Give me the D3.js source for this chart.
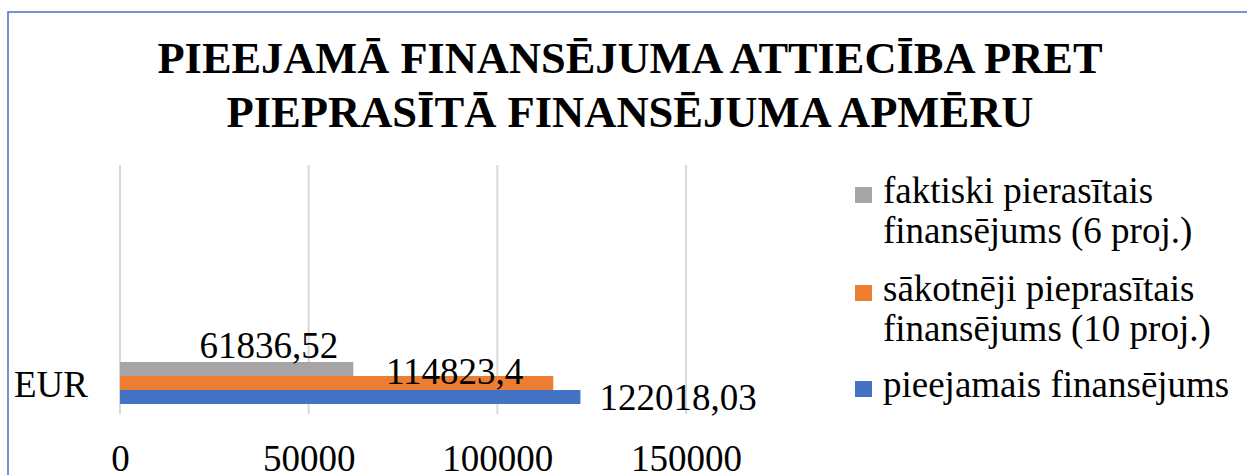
<!DOCTYPE html>
<html>
<head>
<meta charset="utf-8">
<script src="https://cdn.jsdelivr.net/npm/d3@7"></script>
<style>
  body { margin: 0; background: #fff; }
  svg text { font-family: "Liberation Serif", "Times New Roman", serif; fill: #000; }
</style>
</head>
<body>
<div class="chart"></div>
<script>
var w = 1247;
var h = 475;

// data
var category = "EUR";
var seriesNames = [
  ["faktiski pierasītais", "finansējums (6 proj.)"],
  ["sākotnēji pieprasītais", "finansējums (10 proj.)"],
  ["pieejamais finansējums"]
];
var seriesValues = [61836.52, 114823.4, 122018.03];
var valueLabels = ["61836,52", "114823,4", "122018,03"];
var seriesColors = ["#A5A5A5", "#ED7D31", "#4472C4"];
var tickValues = [0, 50000, 100000, 150000];
var titleLines = ["PIEEJAMĀ FINANSĒJUMA ATTIECĪBA PRET", "PIEPRASĪTĀ FINANSĒJUMA APMĒRU"];

var svg = d3.select(".chart").append("svg")
  .attr("width", w)
  .attr("height", h);

// outer frame (only top and left visible)
svg.append("rect")
  .attr("x", 8).attr("y", 12)
  .attr("width", w + 20).attr("height", h + 20)
  .attr("fill", "none")
  .attr("stroke", "#4472C4")
  .attr("stroke-width", 1.5);

// title
var titleWidths = [945, 807];
svg.selectAll(".title")
  .data(titleLines)
  .enter()
  .append("text")
  .attr("class", "title")
  .attr("x", 630)
  .attr("y", function(d, i) { return 73 + i * 54; })
  .attr("text-anchor", "middle")
  .attr("font-size", 45)
  .attr("font-weight", "bold")
  .attr("textLength", function(d, i) { return titleWidths[i]; })
  .attr("lengthAdjust", "spacingAndGlyphs")
  .text(function(d) { return d; });

var xScale = d3.scaleLinear()
  .domain([0, 150000])
  .range([120, 686]);

var yScale = d3.scaleBand()
  .domain(d3.range(seriesValues.length))
  .range([362, 404])
  .padding(0);

// gridlines
svg.append("g")
  .selectAll("line")
  .data(tickValues)
  .enter()
  .append("line")
  .attr("x1", function(d) { return xScale(d); })
  .attr("x2", function(d) { return xScale(d); })
  .attr("y1", 165)
  .attr("y2", 414)
  .attr("stroke", "#D9D9D9")
  .attr("stroke-width", 2);

// x axis
var xAxis = d3.axisBottom(xScale)
  .tickValues(tickValues)
  .tickSize(0)
  .tickPadding(0)
  .tickFormat(d3.format("d"));

var gx = svg.append("g")
  .attr("transform", "translate(0,414)")
  .call(xAxis);
gx.select(".domain").remove();
gx.selectAll("text")
  .attr("dy", null)
  .attr("y", 57)
  .attr("font-size", 37)
  .attr("fill", "#000")
  .style("font-family", "Liberation Serif, serif");

// category label
svg.append("text")
  .attr("x", 14)
  .attr("y", 397)
  .attr("font-size", 37)
  .text(category);

// bars
svg.selectAll(".bar")
  .data(seriesValues)
  .enter()
  .append("rect")
  .attr("class", "bar")
  .attr("x", xScale(0))
  .attr("y", function(d, i) { return yScale(i); })
  .attr("width", function(d) { return xScale(d) - xScale(0); })
  .attr("height", yScale.bandwidth())
  .attr("fill", function(d, i) { return seriesColors[i]; });

// value labels (Excel placed them a bit oddly)
var labelOffsets = [[-15, -4, "end"], [-30, 8, "end"], [19, 20, "start"]];
svg.selectAll(".label")
  .data(seriesValues)
  .enter()
  .append("text")
  .attr("class", "label")
  .attr("x", function(d, i) { return xScale(d) + labelOffsets[i][0]; })
  .attr("y", function(d, i) { return yScale(i) + labelOffsets[i][1]; })
  .attr("text-anchor", function(d, i) { return labelOffsets[i][2]; })
  .attr("font-size", 37)
  .text(function(d, i) { return valueLabels[i]; });

// legend
var legendY = [187, 285, 381];
var legend = svg.selectAll(".legend")
  .data(seriesNames)
  .enter()
  .append("g")
  .attr("class", "legend")
  .attr("transform", function(d, i) { return "translate(855," + legendY[i] + ")"; });

legend.append("rect")
  .attr("width", 17)
  .attr("height", 16)
  .attr("fill", function(d, i) { return seriesColors[i]; });

legend.each(function(lines) {
  d3.select(this).selectAll("text")
    .data(lines)
    .enter()
    .append("text")
    .attr("x", 28)
    .attr("y", function(d, j) { return 16 + j * 40; })
    .attr("font-size", 37)
    .text(function(d) { return d; });
});
</script>
</body>
</html>
